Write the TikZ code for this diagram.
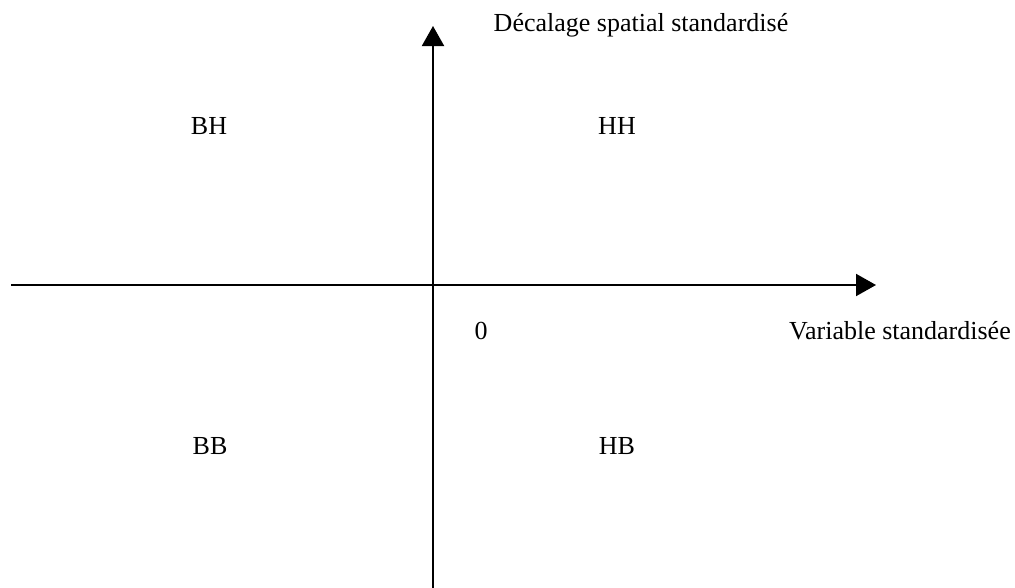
\documentclass[tikz,border=0pt]{standalone}
\usepackage{fontspec}
\setmainfont{Liberation Serif}
\usetikzlibrary{arrows.meta}
\begin{document}
\begin{tikzpicture}[x=1pt,y=-1pt,
  axis/.style={line width=2pt,-{Triangle[length=20pt,width=22pt]}},
  lbl/.style={font=\fontsize{26}{30}\selectfont,inner sep=0pt}]
\useasboundingbox (0,0) rectangle (1015,587);
\coordinate (xs) at (11,285);
\coordinate (xe) at (876,285);
\coordinate (ys) at (433,588);
\coordinate (ye) at (433,26);
\draw[axis] (xs) -- (xe);
\draw[axis] (ys) -- (ye);
\node[lbl,anchor=base] (ylab) at (641,31) {Décalage spatial standardisé};
\node[lbl,anchor=base east] (xlab) at (1011,339) {Variable standardisée};
\node[lbl,anchor=base] (zero) at (481,339) {0};
\node[lbl,anchor=base] (bh) at (209,134) {BH};
\node[lbl,anchor=base] (hh) at (617,134) {HH};
\node[lbl,anchor=base] (bb) at (210,454) {BB};
\node[lbl,anchor=base] (hb) at (617,454) {HB};
\end{tikzpicture}
\end{document}
